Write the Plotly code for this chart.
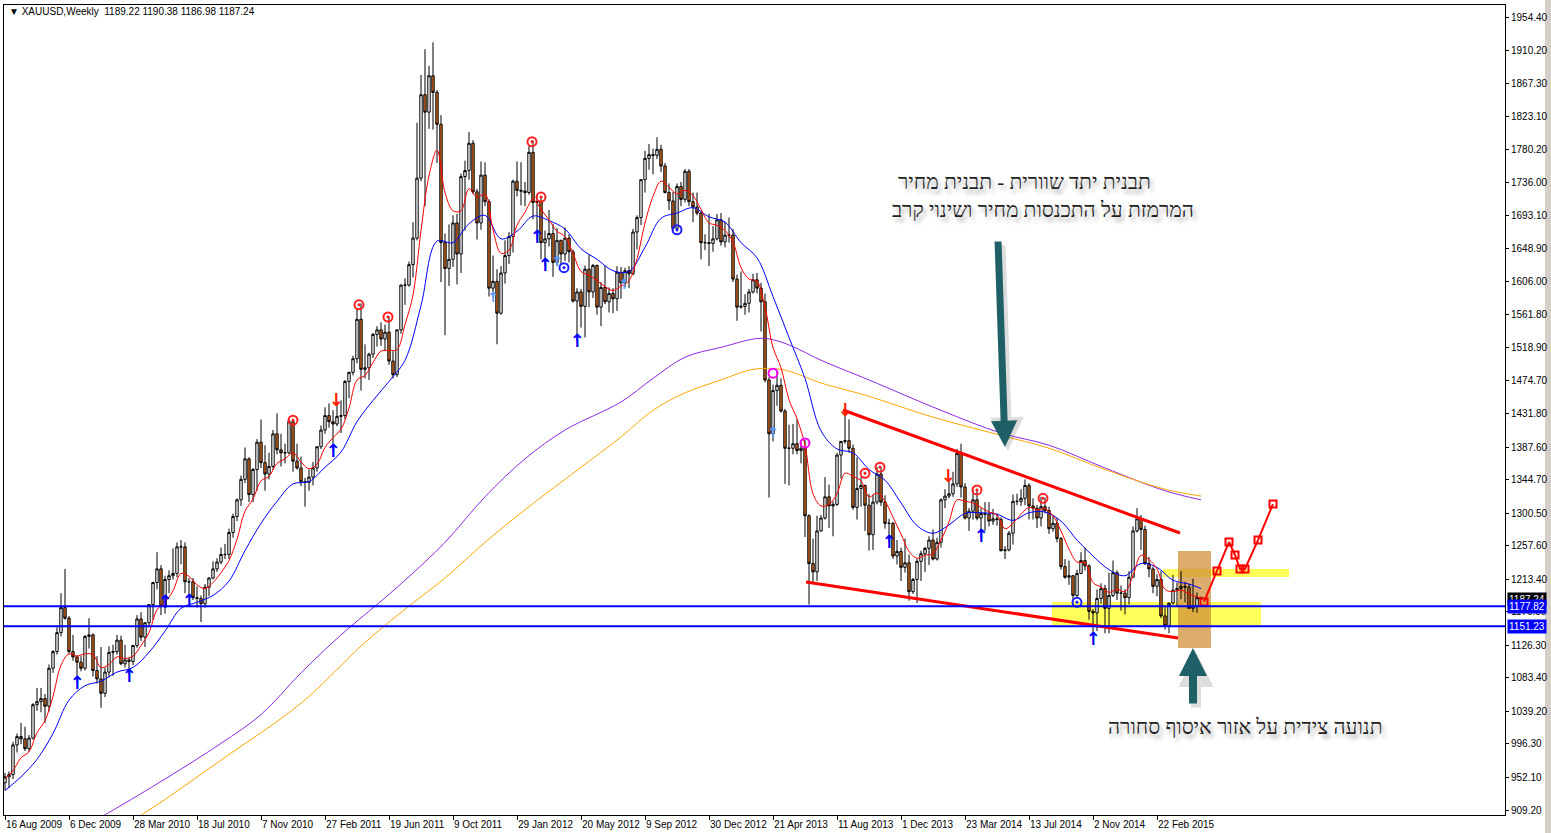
import plotly.graph_objects as go

# ---------------- DATA (weekly XAUUSD) ----------------
opens = [945,953,956,995,1006,1003,990,1004,1048,1052,1056,1046,1096,1118,1143,1176,1162,1118,1111,1104,
         1096,1138,1140,1093,1082,1063,1091,1117,1118,1133,1102,1107,1105,1126,1161,1137,1156,1180,1209,1227,1178,1213,1218,1221,1256,1256,
         1210,1210,1189,1188,1181,1203,1215,1227,1236,1246,1246,1275,1296,1318,1345,1372,1325,1358,1394,1367,1352,1362,1405,1384,1380,1380,
         1421,1369,1360,1342,1341,1348,1360,1388,1410,1429,1421,1418,1428,1429,1474,1486,1504,1556,1490,1492,1510,1536,1542,1530,1539,1501,1483,1542,1601,1601,1628,1663,1742,1852,1829,1877,1855,1813,1657,1623,1635,1683,1642,1744,1752,1788,1724,1683,1746,1711,1597,1606,
         1564,1617,1640,1665,1738,1726,1725,1723,1776,1710,1711,1657,1662,1669,1631,1660,1642,1663,1645,1580,1592,1573,1622,1592,1627,1572,1598,1579,1590,1583,1618,1604,1620,1616,1671,1690,1740,1768,1773,1772,1780,1758,1723,1712,1676,1731,1714,1751,1711,1704,1696,1657,
         1657,1656,1662,1687,1658,1667,1667,1609,1572,1573,1577,1592,1608,1597,1579,1476,1405,1462,1469,1435,1386,1386,1392,1383,1386,1297,1234,1223,1277,1294,1322,1310,1312,1377,1395,1396,1386,1308,1333,1337,1311,1272,1315,1352,1315,1287,1287,1244,1250,1229,1235,1197,
         1213,1237,1247,1254,1265,1240,1262,1318,1323,1326,1339,1379,1335,1294,1303,1318,1294,1300,1299,1290,1293,1292,1251,1252,1274,1316,1316,1320,1337,1310,1307,1294,1309,1304,1280,1287,1267,1230,1216,1218,1192,1221,1238,1231,1171,1169,1188,1201,1175,1192,1222,1195,
         1195,1189,1216,1277,1293,1279,1234,1227,1204,1213,1165,1152,1182,1199,1201,1204,1203,1175,1178,1189.22]
highs = [958,960,999,1010,1024,1019,1008,1050,1070,1070,1062,1101,1120,1150,1195,1227,1165,1140,1113,1112,
         1140,1162,1142,1112,1124,1097,1125,1127,1140,1139,1127,1110,1127,1166,1170,1157,1180,1210,1249,1232,1218,1225,1254,1262,1265,1262,
         1215,1215,1204,1192,1207,1216,1237,1241,1255,1260,1280,1300,1320,1350,1387,1374,1360,1398,1424,1390,1380,1410,1432,1405,1392,1424,
         1423,1392,1375,1347,1358,1368,1389,1416,1440,1445,1436,1448,1449,1476,1487,1508,1569,1577,1523,1512,1538,1547,1552,1549,1560,1514,1543,1602,1610,1632,1684,1815,1878,1912,1890,1921,1858,1825,1669,1681,1693,1695,1748,1765,1803,1792,1728,1764,1763,1714,1640,1622,
         1626,1660,1671,1740,1764,1763,1737,1785,1792,1720,1716,1673,1700,1682,1676,1661,1677,1668,1648,1597,1596,1627,1641,1629,1628,1605,1627,1598,1597,1626,1625,1624,1626,1675,1693,1740,1778,1787,1781,1796,1786,1762,1735,1724,1735,1737,1754,1754,1723,1723,1699,1668,
         1695,1679,1695,1696,1685,1690,1675,1615,1619,1589,1596,1616,1617,1604,1590,1480,1470,1488,1478,1438,1417,1418,1424,1394,1397,1299,1267,1297,1298,1348,1338,1316,1380,1394,1433,1424,1391,1374,1348,1338,1326,1325,1361,1361,1324,1293,1289,1265,1255,1267,1246,1215,
         1240,1251,1256,1270,1279,1268,1320,1332,1345,1355,1385,1392,1340,1307,1331,1331,1307,1315,1315,1306,1300,1295,1257,1277,1325,1326,1332,1345,1340,1320,1311,1322,1321,1309,1297,1294,1269,1240,1238,1219,1226,1249,1255,1233,1174,1200,1208,1206,1222,1238,1225,1205,
         1200,1224,1283,1307,1298,1284,1243,1230,1220,1224,1178,1178,1219,1209,1224,1210,1207,1214,1196,1190.38]
lows = [935,938,950,985,996,987,986,1002,1040,1038,1024,1039,1090,1114,1138,1160,1115,1106,1076,1092,
        1093,1122,1085,1076,1044,1058,1084,1086,1114,1100,1097,1088,1100,1123,1132,1124,1150,1160,1200,1166,1168,1195,1213,1216,1233,1195,
        1190,1186,1176,1157,1176,1191,1213,1223,1233,1240,1240,1268,1290,1310,1340,1315,1315,1330,1360,1330,1345,1358,1378,1362,1366,1378,
        1355,1358,1336,1309,1330,1337,1355,1385,1405,1413,1381,1415,1406,1424,1452,1482,1498,1462,1478,1476,1505,1520,1521,1514,1496,1478,1480,1537,1575,1599,1611,1660,1738,1705,1807,1806,1762,1605,1535,1600,1625,1602,1617,1673,1740,1721,1661,1674,1705,1586,1585,1523,
        1562,1603,1629,1644,1718,1706,1705,1720,1688,1661,1635,1627,1652,1612,1626,1628,1633,1631,1578,1527,1545,1532,1572,1584,1562,1547,1576,1565,1564,1567,1583,1598,1597,1614,1648,1680,1723,1753,1747,1767,1750,1722,1700,1672,1672,1705,1710,1705,1684,1693,1635,1647,
        1626,1645,1660,1653,1651,1657,1605,1554,1570,1562,1565,1590,1590,1540,1473,1321,1395,1442,1433,1339,1337,1378,1378,1366,1269,1180,1207,1211,1276,1292,1281,1270,1310,1346,1392,1380,1305,1292,1309,1277,1251,1252,1312,1310,1280,1262,1240,1233,1211,1222,1185,1194,
        1182,1211,1223,1232,1238,1238,1255,1307,1320,1322,1335,1321,1292,1277,1292,1291,1268,1277,1283,1285,1284,1250,1240,1250,1259,1311,1310,1311,1292,1292,1281,1283,1300,1273,1276,1262,1226,1214,1206,1183,1190,1220,1225,1160,1138,1145,1181,1142,1142,1190,1186,1172,
        1167,1180,1215,1275,1252,1232,1216,1195,1191,1162,1147,1142,1180,1178,1187,1183,1175,1170,1169,1186.98]
closes = [953,956,995,1006,1003,990,1004,1048,1052,1056,1046,1096,1118,1143,1176,1162,1118,1111,1104,1096,
          1138,1140,1093,1082,1063,1091,1117,1118,1133,1102,1107,1105,1126,1161,1137,1156,1180,1209,1227,1178,1213,1218,1221,1256,1256,1210,
          1210,1189,1188,1181,1203,1215,1227,1236,1246,1246,1275,1296,1318,1345,1372,1325,1358,1394,1367,1352,1362,1405,1384,1380,1380,1421,
          1369,1360,1342,1341,1348,1360,1388,1410,1429,1421,1418,1428,1429,1474,1486,1504,1556,1490,1492,1510,1536,1542,1530,1539,1501,1483,1542,1601,1601,1628,1663,1742,1852,1829,1877,1855,1813,1657,1623,1635,1683,1642,1744,1752,1788,1724,1683,1746,1711,1597,1606,1564,
          1617,1640,1665,1738,1726,1725,1723,1776,1710,1711,1657,1662,1669,1631,1660,1642,1663,1645,1580,1592,1573,1622,1592,1627,1572,1598,1579,1590,1583,1618,1604,1620,1616,1671,1690,1740,1768,1773,1772,1780,1758,1723,1712,1676,1731,1714,1751,1711,1704,1696,1657,1657,
          1656,1662,1687,1658,1667,1667,1609,1572,1573,1577,1592,1608,1597,1579,1476,1405,1462,1469,1435,1386,1386,1392,1383,1386,1297,1234,1223,1277,1294,1322,1310,1312,1377,1395,1396,1386,1308,1333,1337,1311,1272,1315,1352,1315,1287,1287,1244,1250,1229,1235,1197,1213,
          1237,1247,1254,1265,1240,1262,1318,1323,1326,1339,1379,1335,1294,1303,1318,1294,1300,1299,1290,1293,1292,1251,1252,1274,1316,1316,1320,1337,1310,1307,1294,1309,1304,1280,1287,1267,1230,1216,1218,1192,1221,1238,1231,1171,1169,1188,1201,1175,1192,1222,1195,1195,
          1189,1216,1277,1293,1279,1234,1227,1204,1213,1165,1152,1182,1199,1201,1204,1203,1175,1178,1189,1187.24]
bars = list(range(len(closes)))

# fast MA (red), read every 2 bars
fast_ma_bars = list(range(0, 300, 2)) + [299]
fast_ma_values = [950,961,978,986,1011,1027,1059,1100,1115,1112,1115,1114,1097,1101,1111,1109,1112,1126,1143,1173,
                  1183,1198,1221,1217,1206,1201,1209,1222,1238,1266,1303,1319,1343,1349,1366,1372,1380,1368,1359,1365,
                  1387,1400,1411,1439,1476,1482,1499,1514,1515,1516,1549,1588,1673,1745,1779,1723,1699,1699,1728,1717,
                  1721,1674,1643,1647,1680,1697,1714,1701,1687,1672,1665,1643,1619,1614,1607,1599,1594,1600,1607,1636,
                  1683,1718,1738,1730,1721,1726,1719,1701,1683,1680,1673,1658,1624,1609,1606,1572,1519,1492,1450,1425,
                  1390,1326,1310,1312,1326,1353,1349,1343,1322,1327,1316,1295,1273,1250,1241,1245,1247,1265,1289,1318,
                  1316,1314,1308,1302,1298,1280,1287,1299,1308,1305,1306,1297,1277,1253,1236,1235,1209,1203,1196,1200,
                  1197,1218,1245,1239,1227,1200,1197,1199,1194,1190,1189]
# slow MA (blue), read every 4 bars
slow_ma_bars = list(range(0, 300, 4)) + [299]
slow_ma_values = [935,953,976,1010,1054,1073,1079,1091,1097,1117,1145,1175,1183,1192,1211,1251,1287,1316,1339,1342,
                  1361,1381,1421,1449,1474,1502,1574,1659,1657,1682,1693,1662,1672,1692,1686,1675,1649,1635,1620,1619,
                  1651,1689,1696,1703,1691,1684,1657,1637,1586,1532,1478,1409,1385,1380,1358,1344,1314,1284,1274,1285,
                  1300,1301,1299,1291,1301,1302,1290,1265,1244,1226,1218,1234,1229,1212,1207,1201]
# long MAs
purple_ma_bars = [20, 27, 40, 54, 64, 74, 84, 93, 100, 110, 120, 130, 140, 154, 162, 170, 179, 189, 194, 199, 204, 216, 234, 249, 261, 275, 290, 299]
purple_ma_values = [888, 909, 950, 997, 1035, 1090, 1140, 1180, 1212, 1262, 1322, 1372, 1410, 1447, 1478, 1506, 1519, 1531, 1526, 1515, 1502, 1476, 1436, 1406, 1390, 1360, 1330, 1318]
orange_ma_bars = [30, 36, 54, 74, 90, 101, 110, 120, 130, 140, 154, 162, 170, 179, 187, 194, 199, 204, 215, 232, 249, 261, 275, 290, 299]
orange_ma_values = [890, 909, 975, 1050, 1130, 1178, 1215, 1262, 1305, 1345, 1401, 1436, 1459, 1476, 1490, 1490, 1482, 1472, 1456, 1427, 1403, 1386, 1358, 1332, 1323]

# drawn objects
trend_upper_bars = [209.5, 293.75]
trend_upper_prices = [1436.4, 1274.3]
trend_lower_bars = [200.25, 293.25]
trend_lower_prices = [1209.7, 1135.9]
projection_bars = [299.75, 303, 306, 307.5, 308.75, 310, 313.25, 317]
projection_prices = [1183.4, 1224.2, 1262.4, 1245.3, 1226.9, 1226.9, 1265.0, 1312.5]
support_levels = [1177.82, 1151.23]
current_price = 1187.24

# signal markers
up_arrow_bars = [18, 31, 40, 46, 82, 133, 135, 143, 221, 244, 272]
up_arrow_prices = [1074, 1084, 1182, 1183, 1381, 1662, 1626, 1525, 1261, 1269, 1132]
light_up_bars = [122, 138, 154.75, 192]
light_up_prices = [1584, 1631, 1601, 1405]
blue_circle_bars = [139.75, 168, 268]
blue_circle_prices = [1624, 1674, 1183]
red_circle_bars = [72, 88.5, 95.75, 131.75, 134, 215, 218.75, 243, 259.5]
red_circle_prices = [1423, 1575, 1559, 1790, 1717, 1353, 1361, 1331, 1320]
red_down_bars = [82.75, 210, 235.75]
red_down_prices = [1448, 1434, 1347]
magenta_bars = [192, 200]
magenta_prices = [1485, 1393]

x_tick_bars = [0, 16, 32, 48, 64, 80, 96, 112, 128, 144, 160, 176, 192, 208, 224, 240, 256, 272, 288]
x_tick_labels = ["16 Aug 2009", "6 Dec 2009", "28 Mar 2010", "18 Jul 2010", "7 Nov 2010", "27 Feb 2011",
                 "19 Jun 2011", "9 Oct 2011", "29 Jan 2012", "20 May 2012", "9 Sep 2012", "30 Dec 2012",
                 "21 Apr 2013", "11 Aug 2013", "1 Dec 2013", "23 Mar 2014", "13 Jul 2014", "2 Nov 2014", "22 Feb 2015"]
y_tick_values = [909.20, 952.10, 996.30, 1039.20, 1083.40, 1126.30, 1170.50, 1213.40, 1257.60, 1300.50,
                 1344.70, 1387.60, 1431.80, 1474.70, 1518.90, 1561.80, 1606.00, 1648.90, 1693.10, 1736.00,
                 1780.20, 1823.10, 1867.30, 1910.20, 1954.40]

# ---------------- LAYOUT HELPERS ----------------
W, H = 1551, 833
PL, PR, PT, PB = 4, 1505, 5, 815
X0, X1 = -0.25, 375.0
SCALE = (1954.40 - 909.20) / (810 - 17)
Y1 = 1954.40 + (17 - PT) * SCALE
Y0 = 909.20 - (PB - 810) * SCALE


def px2bar(px):
    return X0 + (px - PL) / (PR - PL) * (X1 - X0)


def py2price(py):
    return Y1 - (py - PT) * SCALE


FONT = "Liberation Sans"
fig = go.Figure()

fig.add_trace(go.Candlestick(
    x=bars, open=opens, high=highs, low=lows, close=closes,
    increasing=dict(line=dict(color="black", width=1), fillcolor="white"),
    decreasing=dict(line=dict(color="black", width=1), fillcolor="#D2691E"),
    whiskerwidth=0, showlegend=False, hoverinfo="skip"))

fig.add_trace(go.Scatter(x=purple_ma_bars, y=purple_ma_values, mode="lines",
                         line=dict(color="#8A2BE2", width=1, shape="spline"), hoverinfo="skip", showlegend=False))
fig.add_trace(go.Scatter(x=orange_ma_bars, y=orange_ma_values, mode="lines",
                         line=dict(color="#FFA500", width=1, shape="spline"), hoverinfo="skip", showlegend=False))
fig.add_trace(go.Scatter(x=slow_ma_bars, y=slow_ma_values, mode="lines",
                         line=dict(color="#0000FF", width=1, shape="spline"), hoverinfo="skip", showlegend=False))
fig.add_trace(go.Scatter(x=fast_ma_bars, y=fast_ma_values, mode="lines",
                         line=dict(color="#FF0000", width=1, shape="spline"), hoverinfo="skip", showlegend=False))

for tb, tp in ((trend_upper_bars, trend_upper_prices), (trend_lower_bars, trend_lower_prices)):
    fig.add_trace(go.Scatter(x=tb, y=tp, mode="lines", line=dict(color="#FF0000", width=3),
                             hoverinfo="skip", showlegend=False))

fig.add_trace(go.Scatter(x=projection_bars, y=projection_prices, mode="lines+markers",
                         line=dict(color="#FF0000", width=2),
                         marker=dict(symbol="square-open", size=7, color="#FF0000", line=dict(width=2)),
                         hoverinfo="skip", showlegend=False))

# signals
fig.add_trace(go.Scatter(x=up_arrow_bars, y=up_arrow_prices, mode="text", text=["↑"] * len(up_arrow_bars),
                         textfont=dict(color="#0000FF", size=18, family="DejaVu Sans", weight="bold"),
                         hoverinfo="skip", showlegend=False))
fig.add_trace(go.Scatter(x=light_up_bars, y=light_up_prices, mode="text", text=["↑"] * len(light_up_bars),
                         textfont=dict(color="#5A9BFF", size=14, family="DejaVu Sans", weight="bold"),
                         hoverinfo="skip", showlegend=False))
fig.add_trace(go.Scatter(x=red_down_bars, y=red_down_prices, mode="text", text=["↓"] * len(red_down_bars),
                         textfont=dict(color="#FF2000", size=18, family="DejaVu Sans", weight="bold"),
                         hoverinfo="skip", showlegend=False))
fig.add_trace(go.Scatter(x=red_circle_bars, y=red_circle_prices, mode="markers",
                         marker=dict(symbol="circle-open-dot", size=9, color="#FF2020", line=dict(width=2)),
                         hoverinfo="skip", showlegend=False))
fig.add_trace(go.Scatter(x=blue_circle_bars, y=blue_circle_prices, mode="markers",
                         marker=dict(symbol="circle-open-dot", size=9, color="#2020FF", line=dict(width=2)),
                         hoverinfo="skip", showlegend=False))
fig.add_trace(go.Scatter(x=magenta_bars, y=magenta_prices, mode="markers",
                         marker=dict(symbol="circle-open", size=9, color="#FF00FF", line=dict(width=2)),
                         hoverinfo="skip", showlegend=False))

shapes = []
# yellow zones and tan box (behind candles)
shapes.append(dict(type="rect", xref="x", yref="y", x0=px2bar(1052), x1=px2bar(1261),
                   y0=py2price(627), y1=py2price(602), fillcolor="#FFFF5A", line=dict(width=0), layer="below"))
shapes.append(dict(type="rect", xref="x", yref="y", x0=px2bar(1163), x1=px2bar(1289),
                   y0=py2price(577), y1=py2price(569), fillcolor="#FFFF5A", line=dict(width=0), layer="below"))
shapes.append(dict(type="rect", xref="x", yref="y", x0=px2bar(1178), x1=px2bar(1211),
                   y0=py2price(648), y1=py2price(551), fillcolor="rgba(205,140,50,0.72)", line=dict(width=0),
                   layer="below"))
for lvl in support_levels:
    shapes.append(dict(type="line", xref="paper", yref="y", x0=0, x1=1, y0=lvl, y1=lvl,
                       line=dict(color="#0000FF", width=2), layer="above"))
# grey window frame at the right edge
shapes.append(dict(type="rect", xref="paper", yref="paper", x0=(1545 - PL) / (PR - PL), x1=(1551 - PL) / (PR - PL),
                   y0=-0.05, y1=1.02, fillcolor="#D4D0C8", line=dict(width=0), layer="below"))

annotations = []
# header
annotations.append(dict(xref="paper", yref="paper", x=(7 - PL) / (PR - PL), y=(PB - 12) / (PB - PT),
                        xanchor="left", yanchor="middle", showarrow=False,
                        text="▼ XAUUSD,Weekly  1189.22 1190.38 1186.98 1187.24",
                        font=dict(family=FONT, size=10, color="black")))
# right side price labels
for lvl, bg in ((current_price, "black"), (support_levels[0], "#0000FF"), (support_levels[1], "#0000FF")):
    annotations.append(dict(xref="paper", yref="y", x=1, y=lvl, xanchor="left", yanchor="middle", xshift=2,
                            showarrow=False, text=f"{lvl:.2f}", bgcolor=bg, borderpad=1,
                            font=dict(family=FONT, size=10, color="white")))
# big teal arrows (soft shadow + arrow)
for dx, dy, col, wid in ((3, 4, "rgba(0,0,0,0.13)", 9), (0, 0, "#1F6066", 7)):
    annotations.append(dict(xref="x", yref="y", x=px2bar(1005 + dx), y=py2price(447 + dy), ax=-7, ay=-207,
                            text="", showarrow=True, arrowhead=2, arrowsize=0.75, arrowwidth=wid, arrowcolor=col))
    annotations.append(dict(xref="x", yref="y", x=px2bar(1193 + dx), y=py2price(648 + dy), ax=0, ay=57,
                            text="", showarrow=True, arrowhead=2, arrowsize=0.7, arrowwidth=wid + 1, arrowcolor=col))
# Hebrew texts
HEB = dict(family="Liberation Serif", size=21, color="#222222", shadow="3px 4px 4px rgba(0,0,0,0.35)")
annotations.append(dict(xref="x", yref="y", x=px2bar(1024), y=py2price(182), showarrow=False,
                        text="תבנית יתד שוורית - תבנית מחיר", font=HEB))
annotations.append(dict(xref="x", yref="y", x=px2bar(1043), y=py2price(210), showarrow=False,
                        text="המרמזת על התכנסות מחיר ושינוי קרב", font=HEB))
annotations.append(dict(xref="x", yref="y", x=px2bar(1245), y=py2price(727), showarrow=False,
                        text="תנועה צידית על אזור איסוף סחורה", font=HEB))

fig.update_layout(
    width=W, height=H,
    margin=dict(l=PL, r=W - PR, t=PT, b=H - PB, autoexpand=False),
    paper_bgcolor="white", plot_bgcolor="white",
    showlegend=False, hovermode=False, boxgap=0.15,
    shapes=shapes, annotations=annotations,
    font=dict(family=FONT, size=10, color="black"),
    xaxis=dict(range=[X0, X1], showgrid=False, zeroline=False, rangeslider=dict(visible=False),
               tickvals=x_tick_bars, ticktext=x_tick_labels, ticks="outside", ticklen=4, tickcolor="black",
               tickangle=0, automargin=False,
               ticklabelposition="outside right", showline=True, linecolor="black", linewidth=1, mirror=True,
               tickfont=dict(family=FONT, size=10, color="black"), fixedrange=True),
    yaxis=dict(range=[Y0, Y1], side="right", showgrid=False, zeroline=False, automargin=False,
               tickvals=y_tick_values, ticktext=[f"{v:.2f}" for v in y_tick_values],
               ticks="outside", ticklen=3, tickcolor="black", showline=True, linecolor="black", linewidth=1,
               mirror=True, tickfont=dict(family=FONT, size=10, color="black"), fixedrange=True),
)

fig.write_html("out.html", config={"displayModeBar": False},
               post_script="document.body.style.margin='0px';document.body.style.overflow='hidden';")
